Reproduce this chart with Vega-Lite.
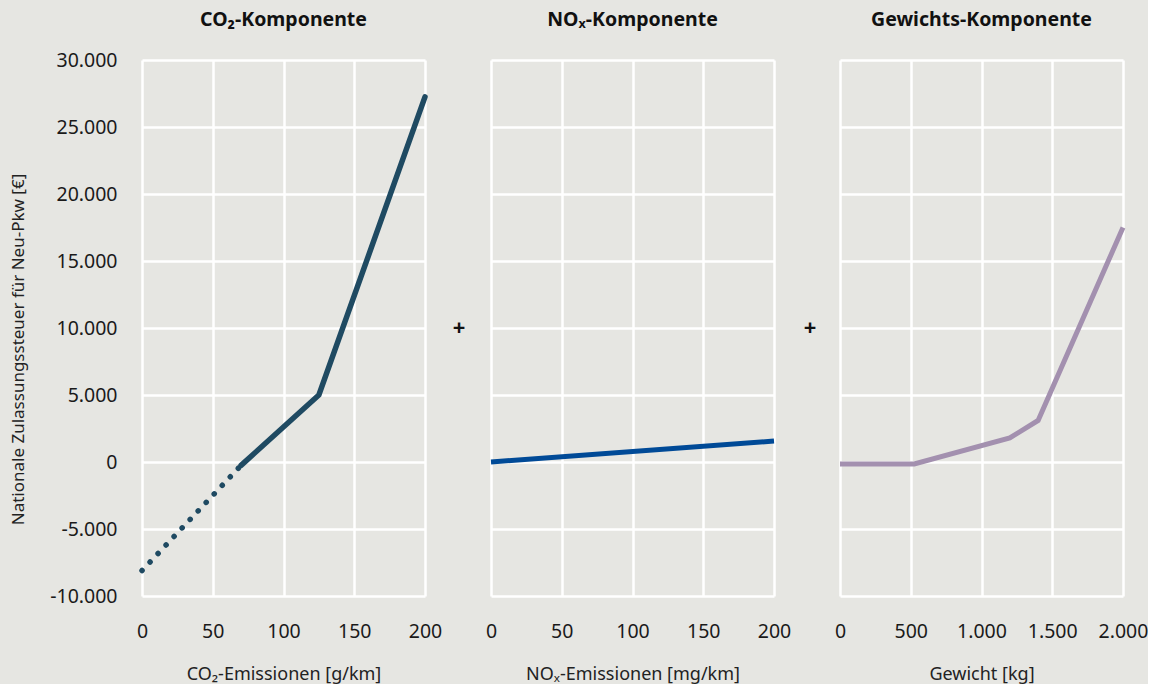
{
  "$schema": "https://vega.github.io/schema/vega-lite/v6.json",
  "background": "#e6e6e2",
  "padding": {"left": 9, "top": 9, "right": 0, "bottom": 0},
  "spacing": 66,
  "bounds": "flush",
  "config": {
    "locale": {"number": {"decimal": ",", "thousands": ".", "grouping": [3], "currency": ["", " €"], "minus": "-"}},
    "view": {"stroke": null},
    "font": "Noto Sans",
    "title": {"font": "Noto Sans", "fontSize": 19.5, "fontWeight": "bold", "color": "#111111", "offset": 30},
    "axis": {
      "domain": false, "ticks": false, "grid": true, "gridColor": "#ffffff", "gridWidth": 2.5, "gridOpacity": 1,
      "labelFont": "Noto Sans", "labelFontSize": 19.5, "labelColor": "#1a1a1a", "labelFlush": false,
      "titleFont": "Noto Sans", "titleFontSize": 17, "titleFontWeight": "normal", "titleColor": "#222222"
    },
    "axisX": {"labelPadding": 26, "titlePadding": 25, "titleFontSize": 18},
    "axisY": {"labelPadding": 25, "titlePadding": 22}
  },
  "datasets": {
    "co2_dotted": [{"x": 0, "y": -8100}, {"x": 70, "y": -250}],
    "co2_solid": [{"x": 70, "y": -250}, {"x": 125, "y": 5000}, {"x": 200, "y": 27250}],
    "nox": [{"x": 0, "y": 0}, {"x": 200, "y": 1560}],
    "weight": [{"x": 0, "y": -150}, {"x": 525, "y": -150}, {"x": 1200, "y": 1800}, {"x": 1400, "y": 3100}, {"x": 2000, "y": 17500}],
    "plus": [{"x": 200, "y": 10000, "t": "+"}]
  },
  "hconcat": [
    {
      "width": 283, "height": 536,
      "title": {"text": "CO₂-Komponente", "offset": 20},
      "layer": [
        {
          "data": {"name": "co2_dotted"},
          "mark": {"type": "line", "color": "#1f4a62", "strokeWidth": 5.5, "strokeDash": [0.1, 11.6], "strokeCap": "round"},
          "encoding": {
            "x": {"field": "x", "type": "quantitative", "scale": {"domain": [0, 200], "nice": false}, "axis": {"values": [0, 50, 100, 150, 200], "title": "CO₂-Emissionen [g/km]"}},
            "y": {"field": "y", "type": "quantitative", "scale": {"domain": [-10000, 30000], "nice": false}, "axis": {"values": [-10000, -5000, 0, 5000, 10000, 15000, 20000, 25000, 30000], "format": ",d", "title": "Nationale Zulassungssteuer für Neu-Pkw [€]", "titleY": 289}}
          }
        },
        {
          "data": {"name": "co2_solid"},
          "mark": {"type": "line", "color": "#1f4a62", "strokeWidth": 5.5, "strokeCap": "round"},
          "encoding": {
            "x": {"field": "x", "type": "quantitative"},
            "y": {"field": "y", "type": "quantitative"}
          }
        },
        {
          "data": {"name": "plus"},
          "mark": {"type": "text", "dx": 34, "fontSize": 22, "fontWeight": "bold", "color": "#111111"},
          "encoding": {
            "x": {"field": "x", "type": "quantitative"},
            "y": {"field": "y", "type": "quantitative"},
            "text": {"field": "t"}
          }
        }
      ]
    },
    {
      "width": 283, "height": 536,
      "title": "NOₓ-Komponente",
      "layer": [
        {
          "data": {"name": "nox"},
          "mark": {"type": "line", "color": "#004a97", "strokeWidth": 5},
          "encoding": {
            "x": {"field": "x", "type": "quantitative", "scale": {"domain": [0, 200], "nice": false}, "axis": {"values": [0, 50, 100, 150, 200], "title": "NOₓ-Emissionen [mg/km]"}},
            "y": {"field": "y", "type": "quantitative", "scale": {"domain": [-10000, 30000], "nice": false}, "axis": {"values": [-10000, -5000, 0, 5000, 10000, 15000, 20000, 25000, 30000], "labels": false, "title": null}}
          }
        },
        {
          "data": {"name": "plus"},
          "mark": {"type": "text", "dx": 36, "fontSize": 22, "fontWeight": "bold", "color": "#111111"},
          "encoding": {
            "x": {"field": "x", "type": "quantitative"},
            "y": {"field": "y", "type": "quantitative"},
            "text": {"field": "t"}
          }
        }
      ]
    },
    {
      "width": 283, "height": 536,
      "title": "Gewichts-Komponente",
      "layer": [
        {
          "data": {"name": "weight"},
          "mark": {"type": "line", "color": "#a390af", "strokeWidth": 5},
          "encoding": {
            "x": {"field": "x", "type": "quantitative", "scale": {"domain": [0, 2000], "nice": false}, "axis": {"values": [0, 500, 1000, 1500, 2000], "format": ",d", "title": "Gewicht [kg]"}},
            "y": {"field": "y", "type": "quantitative", "scale": {"domain": [-10000, 30000], "nice": false}, "axis": {"values": [-10000, -5000, 0, 5000, 10000, 15000, 20000, 25000, 30000], "labels": false, "title": null}}
          }
        }
      ]
    }
  ]
}
